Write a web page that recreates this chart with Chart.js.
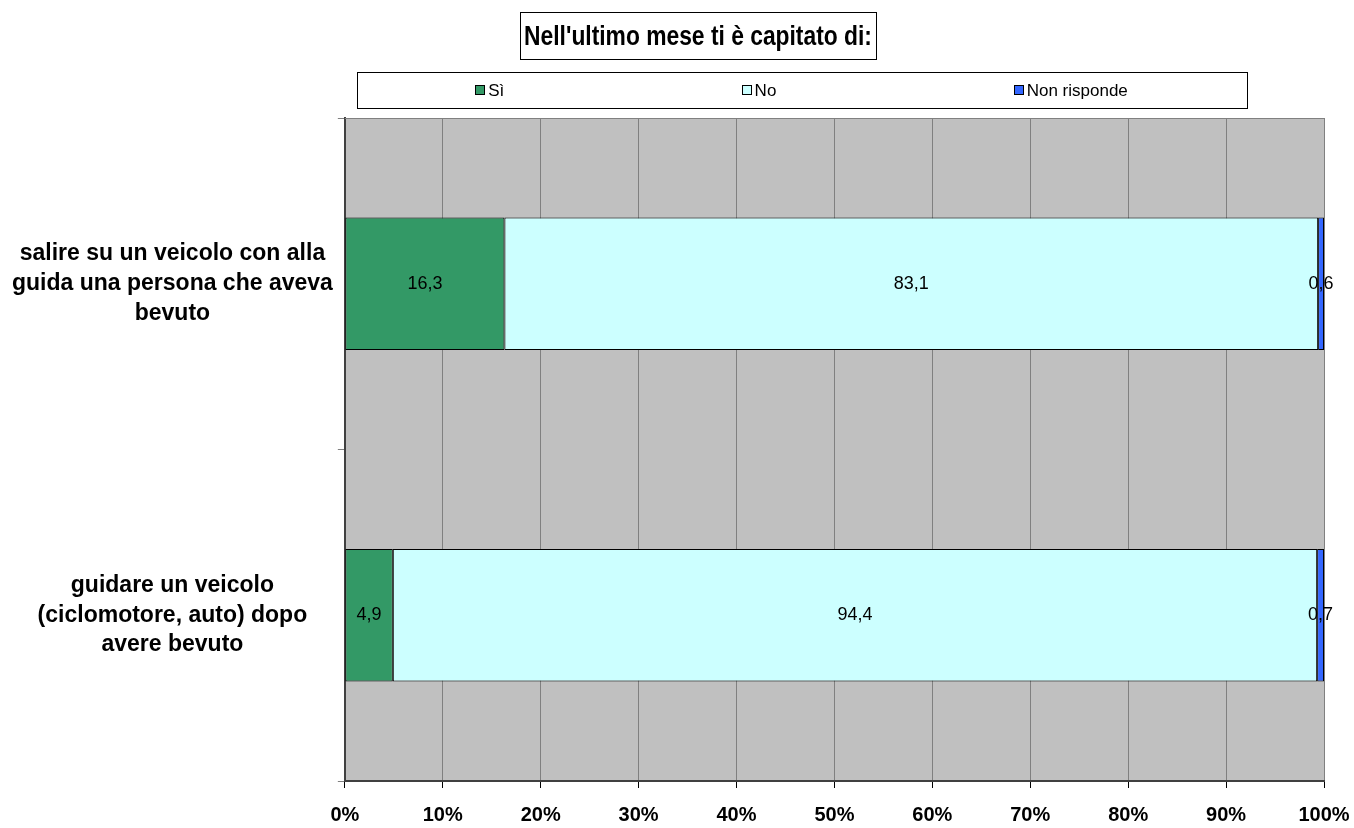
<!DOCTYPE html>
<html>
<head>
<meta charset="utf-8">
<script src="https://cdn.jsdelivr.net/npm/chart.js@4/dist/chart.umd.min.js"></script>
<style>
  body { margin: 0; background: #fff; }
  #wrap { width: 1354px; height: 828px; }
</style>
</head>
<body>
<div id="wrap"><canvas id="myChart" width="1354" height="828"></canvas></div>
<script>
const titleText = "Nell'ultimo mese ti è capitato di:"
const categories = [
    ['salire su un veicolo con alla', 'guida una persona che aveva', 'bevuto'],
    ['guidare un veicolo', '(ciclomotore, auto) dopo', 'avere bevuto']
]
const seriesNames = ['Sì', 'No', 'Non risponde']
const siValues = [16.3, 4.9]
const noValues = [83.1, 94.4]
const nonRispondeValues = [0.6, 0.7]
const seriesColors = ['#339966', '#CCFFFF', '#3366FF']
const tickValues = [0, 10, 20, 30, 40, 50, 60, 70, 80, 90, 100]

const allValues = [siValues, noValues, nonRispondeValues]

// grey plot background + title box + spread legend (excel style)
const frame = {
    id: 'frame',
    beforeDraw(chart) {
        const { ctx, chartArea: a } = chart
        ctx.save()
        ctx.fillStyle = '#c0c0c0'
        ctx.fillRect(a.left, a.top, a.right - a.left, a.bottom - a.top)
        ctx.restore()
    },
    afterDraw(chart) {
        const { ctx, chartArea: a } = chart
        ctx.save()

        // top edge of plot
        ctx.strokeStyle = '#808080'
        ctx.lineWidth = 1
        ctx.beginPath()
        ctx.moveTo(a.left, a.top + 0.5)
        ctx.lineTo(a.right, a.top + 0.5)
        ctx.stroke()

        // title (condensed like the original)
        const squeeze = 0.815
        ctx.font = "bold 28px 'Liberation Sans', Arial"
        ctx.textAlign = 'center'
        ctx.textBaseline = 'middle'
        const tw = ctx.measureText(titleText).width * squeeze
        const cx = 698
        ctx.fillStyle = '#fff'
        ctx.fillRect(cx - tw / 2 - 4, 12, tw + 8, 47)
        ctx.strokeStyle = '#000'
        ctx.strokeRect(Math.round(cx - tw / 2 - 4) + 0.5, 12.5, Math.round(tw + 8), 47)
        ctx.fillStyle = '#000'
        ctx.save()
        ctx.translate(cx, 37)
        ctx.scale(squeeze, 1)
        ctx.fillText(titleText, 0, 0)
        ctx.restore()

        // legend
        const lx = 357, ly = 72, lw = 890, lh = 36
        ctx.fillStyle = '#fff'
        ctx.fillRect(lx, ly, lw, lh)
        ctx.strokeStyle = '#000'
        ctx.strokeRect(lx + 0.5, ly + 0.5, lw, lh)
        ctx.font = "17px 'Liberation Sans', Arial"
        ctx.textAlign = 'left'
        const widths = chart.data.datasets.map(ds => 14 + ctx.measureText(ds.label).width)
        const gap = (lw - widths.reduce((s, w) => s + w, 0)) / 3
        let x = lx + gap / 2
        const my = ly + lh / 2
        chart.data.datasets.forEach((ds, i) => {
            ctx.fillStyle = ds.backgroundColor
            ctx.fillRect(Math.round(x), Math.round(my - 5), 10, 10)
            ctx.strokeStyle = '#000'
            ctx.strokeRect(Math.round(x) + 0.5, Math.round(my - 5) + 0.5, 9, 9)
            ctx.fillStyle = '#000'
            ctx.fillText(ds.label, x + 13, my + 1)
            x += widths[i] + gap
        })
        ctx.restore()
    }
}

const valueLabels = {
    id: 'valueLabels',
    afterDatasetsDraw(chart) {
        const ctx = chart.ctx
        ctx.save()
        ctx.font = "18px 'Liberation Sans', Arial"
        ctx.fillStyle = '#000'
        ctx.textAlign = 'center'
        ctx.textBaseline = 'middle'
        chart.data.datasets.forEach((ds, i) => {
            chart.getDatasetMeta(i).data.forEach((bar, j) => {
                const p = bar.getCenterPoint()
                ctx.fillText(ds.data[j].toFixed(1).replace('.', ','), p.x, p.y)
            })
        })
        ctx.restore()
    }
}

const ctx = document.getElementById('myChart')
const chart = new Chart(ctx, {
    type: 'bar',
    data: {
        labels: categories,
        datasets: seriesNames.map((name, i) => ({
            label: name,
            data: allValues[i],
            backgroundColor: seriesColors[i],
            borderColor: '#000',
            borderWidth: 1,
            borderSkipped: false,
            barPercentage: 0.4,
            categoryPercentage: 1
        }))
    },
    options: {
        responsive: false,
        animation: false,
        indexAxis: 'y',
        layout: { padding: { top: 118, left: 7, right: 30, bottom: 0 } },
        plugins: {
            legend: { display: false },
            title: { display: false },
            tooltip: { enabled: false }
        },
        scales: {
            x: {
                stacked: true,
                min: 0,
                max: 100,
                afterBuildTicks: axis => { axis.ticks = tickValues.map(v => ({ value: v })) },
                afterFit: axis => { axis.height = 47; axis.paddingLeft = 0; axis.paddingRight = 0 },
                ticks: {
                    callback: v => v + '%',
                    color: '#000',
                    padding: 15,
                    maxRotation: 0,
                    font: { family: "'Liberation Sans', Arial", size: 20, weight: 'bold' }
                },
                grid: { color: '#808080', tickColor: '#000', tickLength: 7 },
                border: { color: '#404040', width: 2 }
            },
            y: {
                stacked: true,
                afterFit: axis => { axis.paddingTop = 0; axis.paddingBottom = 0 },
                ticks: {
                    color: '#000',
                    padding: 5,
                    crossAlign: 'center',
                    font: { family: "'Liberation Sans', Arial", size: 23, weight: 'bold', lineHeight: 1.3 }
                },
                grid: { drawOnChartArea: false, color: '#808080', tickLength: 7 },
                border: { color: '#404040', width: 2 }
            }
        }
    },
    plugins: [frame, valueLabels]
})
</script>
</body>
</html>
